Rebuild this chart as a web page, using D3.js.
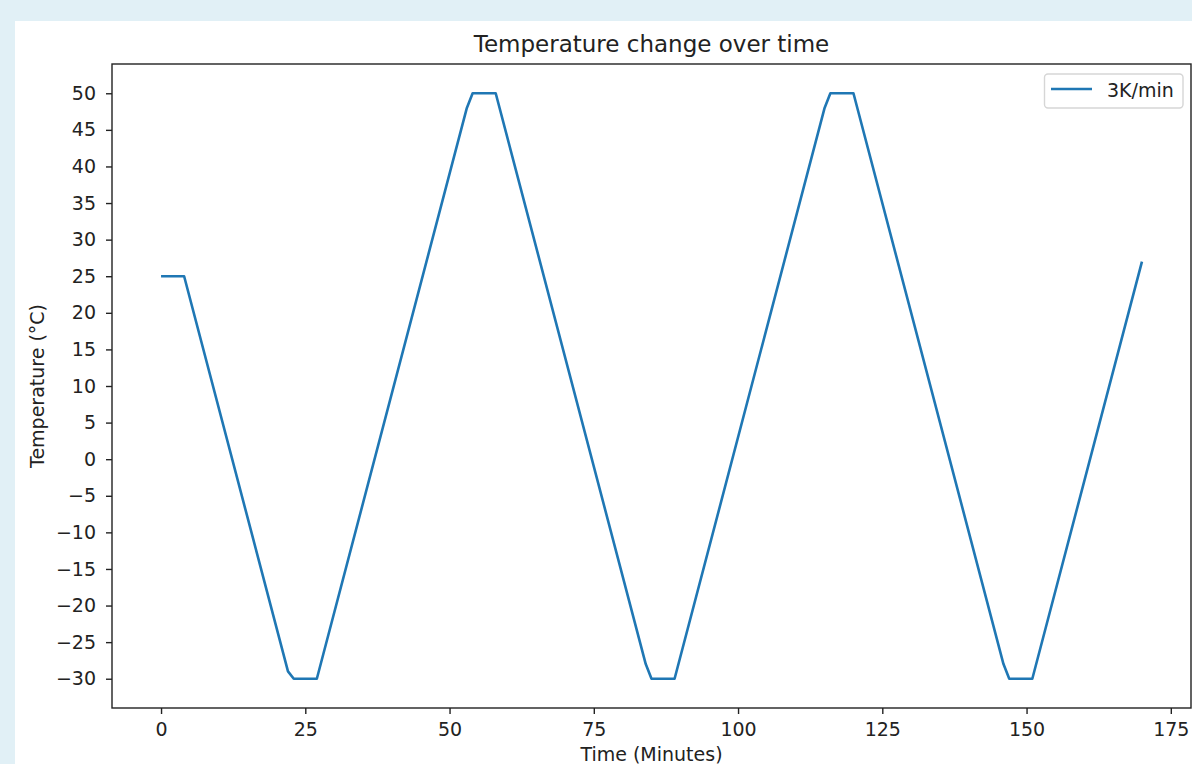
<!DOCTYPE html>
<html>
<head>
<meta charset="utf-8">
<script src="https://cdn.jsdelivr.net/npm/d3@7"></script>
<style>
  html, body { margin: 0; padding: 0; background: #e1f0f6; overflow: hidden; }
  text { font-family: "DejaVu Sans", sans-serif; fill: #222; }
</style>
</head>
<body>
<svg id="chart" width="1192" height="764"></svg>
<script>
// corner points of the temperature profile
const times = [0, 4, 22, 23, 27, 53, 54, 58, 84, 85, 89, 115, 116, 120, 146, 147, 151, 170]
const temps = [25, 25, -29, -30, -30, 48, 50, 50, -28, -30, -30, 48, 50, 50, -28, -30, -30, 27]
const xTicks = [0, 25, 50, 75, 100, 125, 150, 175]
const yTicks = [-30, -25, -20, -15, -10, -5, 0, 5, 10, 15, 20, 25, 30, 35, 40, 45, 50]
const seriesName = '3K/min'

const plot = {left: 112, right: 1191, top: 64, bottom: 708}
const lineColor = '#1f77b4'
const fontSize = '19px'

const svg = d3.select('#chart')

// white figure panel
svg.append('rect')
    .attr('x', 15).attr('y', 21)
    .attr('width', 1192 - 15).attr('height', 764 - 21)
    .attr('fill', '#fff')

const data = times.map((t, i) => ({t: t, temp: temps[i]}))

const xScale = d3.scaleLinear().domain([-8.5, 178.5]).range([plot.left, plot.right])
const yScale = d3.scaleLinear().domain([-34, 54]).range([plot.bottom, plot.top])

const xAxis = svg.append('g')
    .attr('transform', `translate(0,${plot.bottom})`)
    .call(d3.axisBottom(xScale).tickValues(xTicks).tickSize(6).tickPadding(9).tickSizeOuter(0))
const yAxis = svg.append('g')
    .attr('transform', `translate(${plot.left},0)`)
    .call(d3.axisLeft(yScale).tickValues(yTicks).tickSize(6).tickPadding(10).tickSizeOuter(0))

for (const ax of [xAxis, yAxis]) {
    ax.select('.domain').remove()
    ax.selectAll('line').attr('stroke', '#222').attr('stroke-width', 1.4)
    ax.selectAll('text').style('font-size', fontSize).attr('fill', '#222')
        .style('font-family', '"DejaVu Sans", sans-serif')
}

svg.append('path')
    .datum(data)
    .attr('fill', 'none')
    .attr('stroke', lineColor)
    .attr('stroke-width', 2.6)
    .attr('stroke-linejoin', 'round')
    .attr('d', d3.line().x(d => xScale(d.t)).y(d => yScale(d.temp)))

// axes frame
svg.append('rect')
    .attr('x', plot.left).attr('y', plot.top)
    .attr('width', plot.right - plot.left).attr('height', plot.bottom - plot.top)
    .attr('fill', 'none')
    .attr('stroke', '#222')
    .attr('stroke-width', 1.4)

svg.append('text')
    .attr('x', (plot.left + plot.right) / 2).attr('y', 52)
    .attr('text-anchor', 'middle')
    .style('font-size', '23px')
    .text('Temperature change over time')

svg.append('text')
    .attr('x', (plot.left + plot.right) / 2).attr('y', 761)
    .attr('text-anchor', 'middle')
    .style('font-size', fontSize)
    .text('Time (Minutes)')

svg.append('text')
    .attr('transform', `translate(44,${(plot.top + plot.bottom) / 2}) rotate(-90)`)
    .attr('text-anchor', 'middle')
    .style('font-size', fontSize)
    .text('Temperature (°C)')

// legend
const legend = svg.append('g')
legend.append('rect')
    .attr('x', 1044.5).attr('y', 74)
    .attr('width', 138.5).attr('height', 34)
    .attr('rx', 3.5)
    .attr('fill', '#fff')
    .attr('fill-opacity', 0.8)
    .attr('stroke', '#d6d6d6')
    .attr('stroke-width', 1.4)
legend.append('line')
    .attr('x1', 1051).attr('x2', 1092)
    .attr('y1', 89).attr('y2', 89)
    .attr('stroke', lineColor)
    .attr('stroke-width', 2.6)
legend.append('text')
    .attr('x', 1107).attr('y', 97)
    .style('font-size', fontSize)
    .text(seriesName)
</script>
</body>
</html>
